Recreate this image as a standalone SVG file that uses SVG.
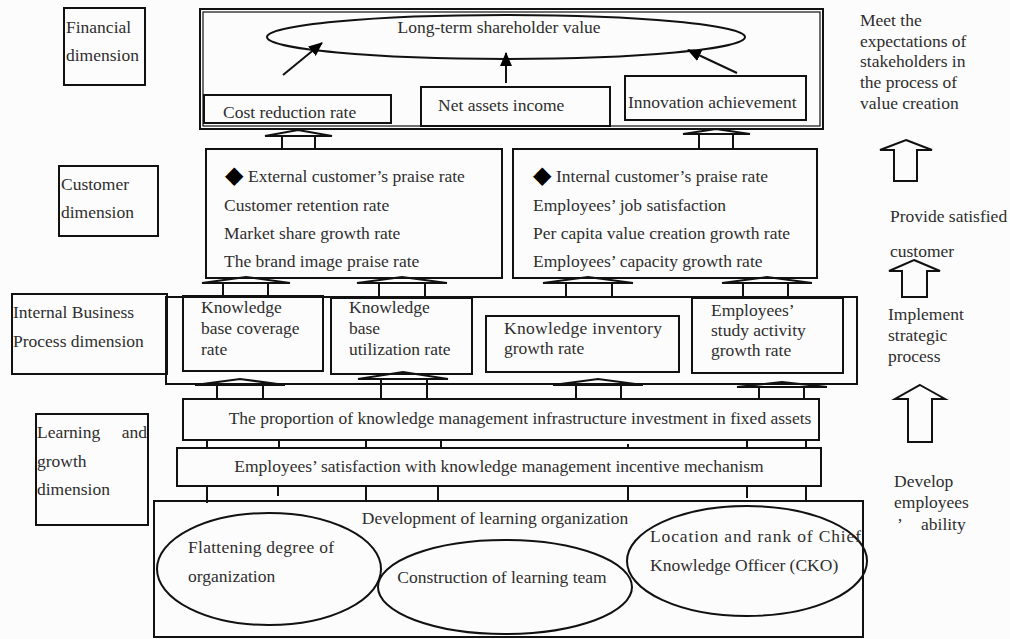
<svg xmlns="http://www.w3.org/2000/svg" width="1010" height="639" viewBox="0 0 1010 639">
<defs>
<marker id="ah" markerUnits="userSpaceOnUse" markerWidth="14" markerHeight="12" refX="13" refY="6" orient="auto">
<path d="M0,0 L14,6 L0,12 z" fill="#000"/>
</marker>
<style>
.box{fill:none;stroke:#111;stroke-width:2}
.thin{fill:none;stroke:#111;stroke-width:1.2}
.ell{fill:none;stroke:#111;stroke-width:2}
.t{font-family:"Liberation Serif","Times New Roman",serif;font-size:17.5px;fill:#2e2e2e}
.dia{font-family:"DejaVu Sans",sans-serif;fill:#000;font-size:24px}
.blk{fill:none;stroke:#111;stroke-width:2;stroke-linejoin:miter}
.con{fill:none;stroke:#111;stroke-width:2}
</style>
</defs>
<rect width="1010" height="639" fill="#fdfcfc"/>

<g id="financial-dimension">
<rect class="box" x="64" y="8" width="81" height="77"/>
<text class="t" x="66" y="33">Financial</text>
<text class="t" x="66" y="61">dimension</text>
</g>

<g id="financial-block">
<rect class="box" x="200" y="9" width="623" height="120"/>
<rect class="thin" x="203" y="12" width="617" height="114"/>
</g>

<g id="long-term-value">
<ellipse class="ell" cx="506" cy="37" rx="239" ry="22"/>
<text class="t" x="499" y="33" text-anchor="middle">Long-term shareholder value</text>
</g>

<g id="cost-reduction">
<rect class="box" x="204" y="95" width="187" height="28"/>
<text class="t" x="223" y="118">Cost reduction rate</text>
</g>

<g id="net-assets">
<rect class="box" x="421" y="87" width="189" height="39"/>
<text class="t" x="438" y="111">Net assets income</text>
</g>

<g id="innovation">
<rect class="box" x="625" y="76" width="181" height="44"/>
<text class="t" x="628" y="108">Innovation achievement</text>
</g>

<g id="customer-dimension">
<rect class="box" x="59" y="166" width="99" height="70"/>
<text class="t" x="61" y="190">Customer</text>
<text class="t" x="61" y="218">dimension</text>
</g>

<g id="external-customer">
<rect class="box" x="206" y="149" width="296" height="129"/>
<text class="t" x="225" y="183"><tspan class="dia">◆</tspan><tspan x="248" y="182">External customer’s praise rate</tspan></text>
<text class="t" x="224" y="211">Customer retention rate</text>
<text class="t" x="224" y="239">Market share growth rate</text>
<text class="t" x="224" y="267">The brand image praise rate</text>
</g>

<g id="internal-customer">
<rect class="box" x="513" y="149" width="304" height="129"/>
<text class="t" x="533" y="183"><tspan class="dia">◆</tspan><tspan x="556" y="182">Internal customer’s praise rate</tspan></text>
<text class="t" x="533" y="211">Employees’ job satisfaction</text>
<text class="t" x="533" y="239">Per capita value creation growth rate</text>
<text class="t" x="533" y="267">Employees’ capacity growth rate</text>
</g>

<g id="internal-process-dimension">
<rect class="box" x="12" y="294" width="155" height="80"/>
<text class="t" x="13" y="318">Internal Business</text>
<text class="t" x="13" y="347">Process dimension</text>
</g>

<g id="internal-process-block">
<rect class="box" x="166" y="297" width="691" height="87"/>
</g>

<g id="kb-coverage">
<rect class="box" x="183" y="296" width="140" height="75"/>
<text class="t" x="201" y="313">Knowledge</text>
<text class="t" x="201" y="334">base coverage</text>
<text class="t" x="201" y="355">rate</text>
</g>

<g id="kb-utilization">
<rect class="box" x="331" y="298" width="141" height="76"/>
<text class="t" x="349" y="313">Knowledge</text>
<text class="t" x="349" y="334">base</text>
<text class="t" x="349" y="355">utilization rate</text>
</g>

<g id="knowledge-inventory">
<rect class="box" x="486" y="316" width="193" height="56"/>
<text class="t" x="504" y="334" textLength="158" lengthAdjust="spacing">Knowledge inventory</text>
<text class="t" x="504" y="354">growth rate</text>
</g>

<g id="study-activity">
<rect class="box" x="692" y="298" width="151" height="75"/>
<text class="t" x="711" y="316">Employees’</text>
<text class="t" x="711" y="336">study activity</text>
<text class="t" x="711" y="356">growth rate</text>
</g>

<g id="learning-dimension">
<rect class="box" x="36" y="414" width="112" height="111"/>
<text class="t" x="37" y="438">Learning</text>
<text class="t" x="147" y="438" text-anchor="end">and</text>
<text class="t" x="37" y="467">growth</text>
<text class="t" x="37" y="495">dimension</text>
</g>

<g id="infrastructure-proportion">
<rect class="box" x="183" y="399" width="636" height="41"/>
<text class="t" x="520" y="424" text-anchor="middle">The proportion of knowledge management infrastructure investment in fixed assets</text>
</g>

<g id="incentive-satisfaction">
<rect class="box" x="177" y="448" width="644" height="38"/>
<text class="t" x="499" y="472" text-anchor="middle">Employees’ satisfaction with knowledge management incentive mechanism</text>
</g>

<g id="learning-organization">
<rect class="box" x="154" y="501" width="709" height="136"/>
<text class="t" x="495" y="524" text-anchor="middle">Development of learning organization</text>
</g>

<g id="flattening">
<ellipse class="ell" cx="269" cy="569" rx="112" ry="56"/>
<text class="t" x="188" y="553" textLength="146" lengthAdjust="spacing">Flattening degree of</text>
<text class="t" x="188" y="582">organization</text>
</g>

<g id="learning-team">
<ellipse class="ell" cx="505" cy="587" rx="127" ry="47"/>
<text class="t" x="502" y="583" text-anchor="middle">Construction of learning team</text>
</g>

<g id="cko">
<ellipse class="ell" cx="747" cy="561" rx="120" ry="55"/>
<text class="t" x="650" y="542" textLength="211" lengthAdjust="spacing">Location and rank of Chief</text>
<text class="t" x="650" y="571">Knowledge Officer (CKO)</text>
</g>

<g id="side-labels">
<text class="t" x="860" y="26">Meet the</text>
<text class="t" x="860" y="47">expectations of</text>
<text class="t" x="860" y="67">stakeholders in</text>
<text class="t" x="860" y="88">the process of</text>
<text class="t" x="860" y="109">value creation</text>
<text class="t" x="890" y="222">Provide satisfied</text>
<text class="t" x="890" y="257">customer</text>
<text class="t" x="888" y="320">Implement</text>
<text class="t" x="888" y="341">strategic</text>
<text class="t" x="888" y="362">process</text>
<text class="t" x="894" y="487">Develop</text>
<text class="t" x="894" y="508">employees</text>
<text class="t" x="897" y="530">’</text>
<text class="t" x="921" y="530">ability</text>
</g>

<g id="connectors">
<line class="con" x1="283" y1="75" x2="322" y2="43" marker-end="url(#ah)"/>
<line class="con" x1="506" y1="83" x2="506" y2="53" marker-end="url(#ah)"/>
<line class="con" x1="737" y1="73" x2="688" y2="50" marker-end="url(#ah)"/>

<path class="blk" d="M265,136 L298,130 L332,136 Z M282,136 V149 M315,136 V149"/>
<path class="blk" d="M683,134 L716,129 L750,134 Z M699,134 V149 M733,134 V149"/>

<path class="blk" d="M202,283 L246,277 L290,283 Z M223,283 V296 M268,283 V296"/>
<path class="blk" d="M357,283 L402,277 L447,283 Z M379,283 V296 M425,283 V296"/>
<path class="blk" d="M543,283 L588,277 L633,283 Z M566,283 V296 M612,283 V296"/>
<path class="blk" d="M722,283 L767,277 L812,283 Z M743,283 V296 M788,283 V296"/>

<path class="blk" d="M195,385 L240,379 L285,385 Z M217,385 V399 M263,385 V399"/>
<path class="blk" d="M358,379 L403,372 L448,379 Z M381,379 V399 M427,379 V399"/>
<path class="blk" d="M553,385 L598,379 L643,385 Z M576,385 V399 M621,385 V399"/>
<path class="blk" d="M737,387 L782,382 L827,387 Z M759,387 V399 M804,387 V399"/>

<path class="con" d="M207,440 V448 M279,440 V448 M366,440 V448 M441,440 V448 M628,444 V448 M747,440 V448 M806,440 V448"/>
<path class="con" d="M207,486 V503 M278,486 V496 M366,486 V501 M438,486 V501 M628,486 V501 M747,486 V498 M806,486 V501"/>

<path class="blk" d="M906,140 L932,150 L917,150 L917,181 L894,181 L894,150 L880,150 Z"/>
<path class="blk" d="M914,260 L940,271 L927,271 L927,297 L902,297 L902,271 L889,271 Z"/>
<path class="blk" d="M920,385 L945,399 L932,399 L932,442 L908,442 L908,399 L895,399 Z"/>
</g>
</svg>
